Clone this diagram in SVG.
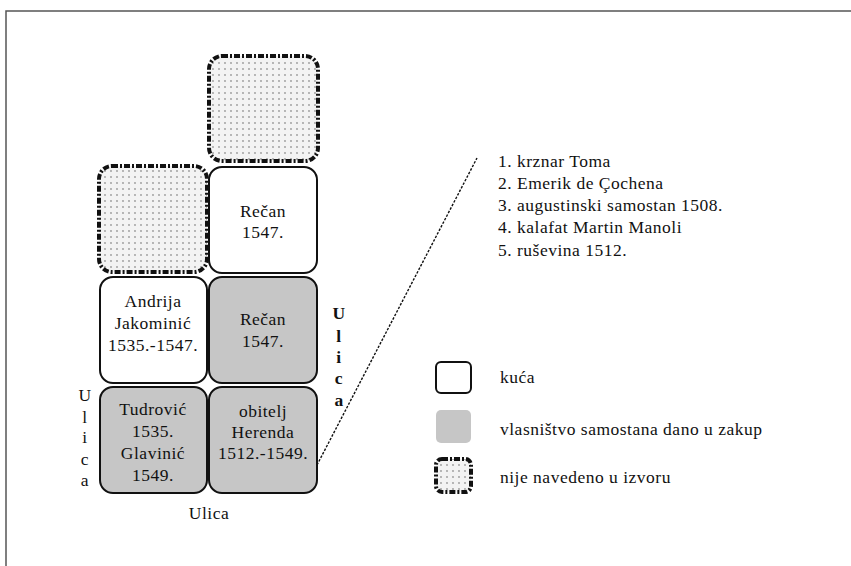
<svg xmlns="http://www.w3.org/2000/svg" width="851" height="566" viewBox="0 0 851 566">
<defs>
<pattern id="dots" width="6" height="6" patternUnits="userSpaceOnUse">
<rect width="6" height="6" fill="#f3f3f3"/>
<circle cx="3" cy="3" r="0.9" fill="#9a9a9a"/>
</pattern>
<style>
.t{font-family:"Liberation Serif","Times New Roman",serif;font-size:17.5px;letter-spacing:0.5px;fill:#111;}
.c{text-anchor:middle;}
.b{font-weight:bold;}
.house{fill:#fff;stroke:#111;stroke-width:2;}
.lease{fill:#c6c6c6;stroke:#111;stroke-width:2;}
.unk{fill:url(#dots);stroke:#111;stroke-width:4;stroke-dasharray:6 2 2 2;}
.frame{fill:none;stroke:#555;stroke-width:1.5;}
</style>
</defs>
<rect width="851" height="566" fill="#fff"/>
<path class="frame" d="M6,566 V11 H851"/>

<g id="n1"><rect class="unk" x="209" y="56" width="109" height="105" rx="13"/></g>
<g id="n2"><rect class="unk" x="99" y="166" width="108" height="106" rx="13"/></g>
<g id="n3"><rect class="house" x="209" y="167" width="108" height="106" rx="13"/>
<text class="t c" x="263" y="217">Rečan</text><text class="t c" x="263" y="238">1547.</text></g>
<g id="n4"><rect class="house" x="100" y="277" width="107" height="106" rx="13"/>
<text class="t c" x="153" y="307">Andrija</text><text class="t c" x="153" y="329">Jakominić</text><text class="t c" x="153" y="351">1535.-1547.</text></g>
<g id="n5"><rect class="lease" x="209" y="277" width="108" height="106" rx="13"/>
<text class="t c" x="263" y="325">Rečan</text><text class="t c" x="263" y="347">1547.</text></g>
<g id="n6"><rect class="lease" x="100" y="387" width="107" height="106" rx="13"/>
<text class="t c" x="153" y="415">Tudrović</text><text class="t c" x="153" y="437">1535.</text><text class="t c" x="153" y="459">Glavinić</text><text class="t c" x="153" y="481">1549.</text></g>
<g id="n7"><rect class="lease" x="209" y="387" width="108" height="106" rx="13"/>
<text class="t c" x="263" y="417">obitelj</text><text class="t c" x="263" y="438">Herenda</text><text class="t c" x="263" y="459">1512.-1549.</text></g>

<g id="connectors"><path d="M317,465 L477,158" fill="none" stroke="#111" stroke-width="1.4" stroke-dasharray="2.5 1.5"/></g>

<g id="streets">
<text class="t c b" x="339" y="319">U</text><text class="t c b" x="339" y="342">l</text><text class="t c b" x="339" y="363">i</text><text class="t c b" x="339" y="384">c</text><text class="t c b" x="339" y="406">a</text>
<text class="t c" x="85" y="401">U</text><text class="t c" x="85" y="423">l</text><text class="t c" x="85" y="443">i</text><text class="t c" x="85" y="465">c</text><text class="t c" x="85" y="486">a</text>
<text class="t c" x="209" y="519">Ulica</text>
</g>

<g id="list">
<text class="t" x="498" y="167">1. krznar Toma</text>
<text class="t" x="498" y="189">2. Emerik de Çochena</text>
<text class="t" x="498" y="211">3. augustinski samostan 1508.</text>
<text class="t" x="498" y="233">4. kalafat Martin Manoli</text>
<text class="t" x="498" y="256">5. ruševina 1512.</text>
</g>

<g id="legend">
<rect class="house" x="436" y="362" width="35" height="31" rx="5"/>
<text class="t" x="500" y="383">kuća</text>
<rect x="436" y="410" width="35" height="33" rx="5" fill="#c6c6c6"/>
<text class="t" x="500" y="435">vlasništvo samostana dano u zakup</text>
<rect class="unk" x="436" y="459" width="35" height="33" rx="6" stroke-width="3"/>
<text class="t" x="500" y="483">nije navedeno u izvoru</text>
</g>
</svg>
